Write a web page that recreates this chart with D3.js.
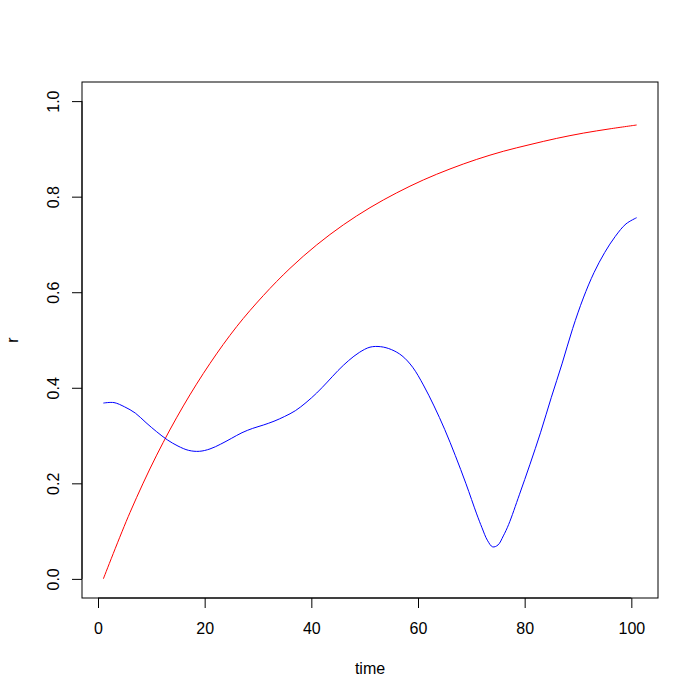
<!DOCTYPE html>
<html>
<head>
<meta charset="utf-8">
<script src="https://cdn.jsdelivr.net/npm/d3@7"></script>
<style>
  html, body { margin: 0; padding: 0; background: #fff; }
  svg { display: block; }
  text { font-family: "Liberation Sans", Arial, Helvetica, sans-serif; }
</style>
</head>
<body>
<svg id="chart" width="700" height="700"></svg>
<script>
// ---- data ----
const redTime = [1, 6, 11, 16, 21, 26, 31, 36, 41, 46, 51, 56, 61, 66, 71, 76, 81, 86, 91, 96, 101];
const redR    = [0, 0.139, 0.259, 0.362, 0.451, 0.528, 0.593, 0.650, 0.699, 0.741, 0.777,
                 0.808, 0.835, 0.858, 0.878, 0.895, 0.909, 0.922, 0.933, 0.942, 0.950];

const blueTime = [1, 3, 5, 7, 9, 11, 13, 15, 17, 19, 21, 23, 25, 27, 29, 31, 33, 35, 37, 39,
                  41, 43, 45, 47, 49, 51, 53, 55, 57, 59, 61, 63, 65, 67, 69, 71, 72, 73, 74,
                  75, 76, 77, 79, 81, 83, 85, 87, 89, 91, 93, 95, 97, 99, 101];
const blueR    = [0.368, 0.369, 0.360, 0.347, 0.327, 0.308, 0.291, 0.278, 0.269, 0.267, 0.272,
                  0.282, 0.294, 0.306, 0.315, 0.322, 0.330, 0.340, 0.352, 0.369, 0.389, 0.412,
                  0.436, 0.457, 0.474, 0.485, 0.486, 0.480, 0.467, 0.443, 0.406, 0.362, 0.313,
                  0.258, 0.199, 0.136, 0.107, 0.081, 0.067, 0.071, 0.090, 0.114, 0.176, 0.240,
                  0.307, 0.380, 0.450, 0.524, 0.588, 0.641, 0.683, 0.717, 0.743, 0.756];

const xTicks = [0, 20, 40, 60, 80, 100];
const yTicks = [0, 0.2, 0.4, 0.6, 0.8, 1.0];
const xLabel = "time";
const yLabel = "r";

// ---- layout ----
const plot = { left: 82, right: 658, top: 82, bottom: 598 };
const svg = d3.select("#chart");

const x = d3.scaleLinear().domain([-3, 105]).range([plot.left, plot.right]);
const y = d3.scaleLinear().domain([-0.04, 1.04]).range([plot.bottom, plot.top]);

// lines
const lineGen = d3.line()
  .x(d => x(d[0]))
  .y(d => y(d[1]))
  .curve(d3.curveCatmullRom.alpha(0.5));

svg.append("path")
  .datum(redTime.map((t, i) => [t, redR[i]]))
  .attr("d", lineGen)
  .attr("fill", "none")
  .attr("stroke", "#ff0000")
  .attr("stroke-width", 1);

svg.append("path")
  .datum(blueTime.map((t, i) => [t, blueR[i]]))
  .attr("d", lineGen)
  .attr("fill", "none")
  .attr("stroke", "#0000ff")
  .attr("stroke-width", 1);

// box
svg.append("rect")
  .attr("x", plot.left).attr("y", plot.top)
  .attr("width", plot.right - plot.left)
  .attr("height", plot.bottom - plot.top)
  .attr("fill", "none")
  .attr("stroke", "#000")
  .attr("stroke-width", 1);

// x axis
const xAxis = svg.append("g")
  .attr("transform", `translate(0,${plot.bottom})`)
  .call(d3.axisBottom(x).tickValues(xTicks).tickSize(10).tickSizeOuter(0).tickFormat(d3.format("d")));
xAxis.select(".domain").remove();
xAxis.selectAll("line").attr("stroke", "#000");
xAxis.selectAll("text")
  .attr("y", 36).attr("dy", 0)
  .attr("font-size", 16)
  .attr("fill", "#000")
  .style("font-family", '"Liberation Sans", Arial, Helvetica, sans-serif');
xAxis.append("line")
  .attr("x1", x(xTicks[0])).attr("x2", x(xTicks[xTicks.length - 1]))
  .attr("y1", 0).attr("y2", 0)
  .attr("stroke", "#000");

// y axis
const yAxis = svg.append("g")
  .attr("transform", `translate(${plot.left},0)`)
  .call(d3.axisLeft(y).tickValues(yTicks).tickSize(10).tickSizeOuter(0).tickFormat(d3.format(".1f")));
yAxis.select(".domain").remove();
yAxis.selectAll("line").attr("stroke", "#000");
yAxis.selectAll("text")
  .attr("transform", "rotate(-90)")
  .attr("x", 0).attr("y", -23.5).attr("dy", 0)
  .attr("text-anchor", "middle")
  .attr("font-size", 16)
  .attr("fill", "#000")
  .style("font-family", '"Liberation Sans", Arial, Helvetica, sans-serif');
yAxis.append("line")
  .attr("x1", 0).attr("x2", 0)
  .attr("y1", y(yTicks[0])).attr("y2", y(yTicks[yTicks.length - 1]))
  .attr("stroke", "#000");

// axis titles
svg.append("text")
  .attr("x", (plot.left + plot.right) / 2)
  .attr("y", 674)
  .attr("text-anchor", "middle")
  .attr("font-size", 16)
  .text(xLabel);

svg.append("text")
  .attr("transform", `translate(18,${(plot.top + plot.bottom) / 2}) rotate(-90)`)
  .attr("text-anchor", "middle")
  .attr("font-size", 16)
  .text(yLabel);
</script>
</body>
</html>
